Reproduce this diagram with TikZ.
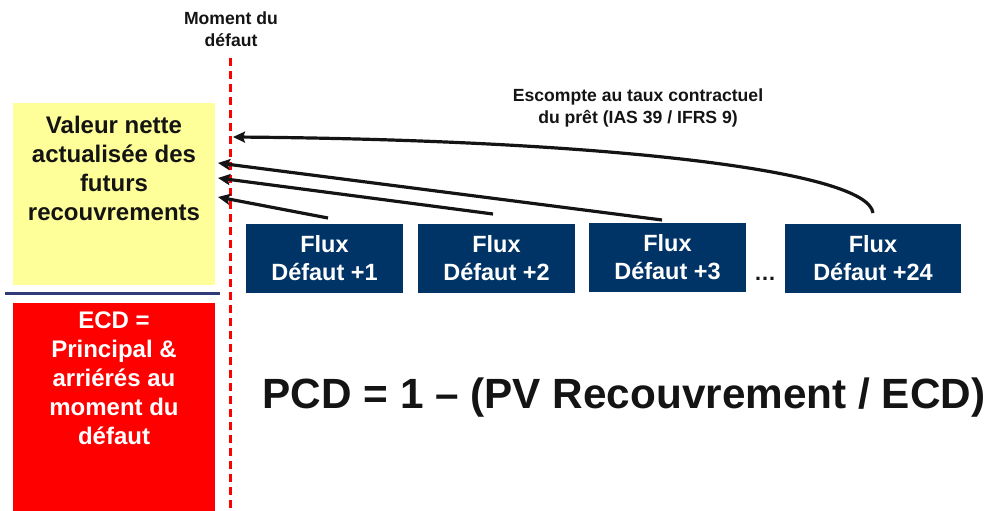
\documentclass[tikz,border=0pt]{standalone}
\usepackage{fontspec}
\setmainfont{Liberation Sans}
\usetikzlibrary{arrows.meta}
\definecolor{paleyellow}{RGB}{255,255,153}
\definecolor{navy}{RGB}{0,51,102}
\definecolor{rulecol}{RGB}{47,58,120}
\definecolor{ink}{RGB}{20,20,20}
\begin{document}
\begin{tikzpicture}[x=1pt,y=-1pt,
  fluxbox/.style={fill=navy, text=white, inner sep=0pt,
    font=\bfseries\fontsize{23.5}{28}\selectfont, align=center,
    minimum width=157pt, minimum height=69pt},
  sidebox/.style={inner sep=0pt, minimum width=202pt},
  sidetext/.style={inner sep=0pt, anchor=north, align=center,
    font=\bfseries\fontsize{24}{29}\selectfont},
  note/.style={inner sep=0pt, anchor=north, align=center, text=ink,
    font=\bfseries\fontsize{17.6}{22}\selectfont},
  flow/.style={line width=3.2pt, draw=ink,
    -{Stealth[length=12pt,width=11pt,inset=2pt]}}]

\useasboundingbox (0,0) rectangle (988,511);

% left column: present value on top, exposure below
\node[sidebox, fill=paleyellow, minimum height=182pt] (pv) at (114,194) {};
\node[sidetext, text=ink] (pvtext) at (114,116)
  {Valeur nette\\actualisée des\\futurs\\recouvrements};
\draw[rulecol, line width=3pt] (5,293) coordinate (r0) -- (220,293) coordinate (r1);
\node[sidebox, fill=red, minimum height=208pt] (ecd) at (114,407) {};
\node[sidetext, text=white] (ecdtext) at (114,312)
  {ECD =\\Principal \&\\arriérés au\\moment du\\défaut};

% default date
\node[note] (moment) at (231,12) {Moment du\\défaut};
\draw[red, line width=3pt, dash pattern=on 8pt off 5pt]
  (230,58) coordinate (d0) -- (230,511) coordinate (d1);

% monthly recovery flows
\node[fluxbox] (f1) at (324.5,258.5) {Flux\\Défaut +1};
\node[fluxbox] (f2) at (496.5,258.5) {Flux\\Défaut +2};
\node[fluxbox] (f3) at (667.5,257) {Flux\\Défaut +3};
\node[fluxbox, minimum width=176pt] (f24) at (873,258.5) {Flux\\Défaut +24};
\node[inner sep=0pt, text=ink, font=\bfseries\fontsize{22}{26}\selectfont]
  (dots) at (765,279) {…};

% discounting arrows back to the default date
\coordinate (s1) at (328,218);
\coordinate (s2) at (493,214);
\coordinate (s3) at (662,220);
\coordinate (s24) at (873,213);
\coordinate (e1) at (218,197);
\coordinate (e2) at (218,178);
\coordinate (e3) at (218,163);
\coordinate (e24) at (233,137);
\draw[flow] (s1) -- (e1);
\draw[flow] (s2) -- (e2);
\draw[flow] (s3) -- (e3);
\draw[flow] (s24) .. controls (868,170) and (600,140) .. (e24);

\node[note] (rate) at (638,89) {Escompte au taux contractuel\\du prêt (IAS 39 / IFRS 9)};

% loss given default formula
\node[inner sep=0pt, text=ink, font=\bfseries\fontsize{42.3}{48}\selectfont]
  (pcd) at (624,398) {PCD = 1 – (PV Recouvrement / ECD)};
\end{tikzpicture}
\end{document}
